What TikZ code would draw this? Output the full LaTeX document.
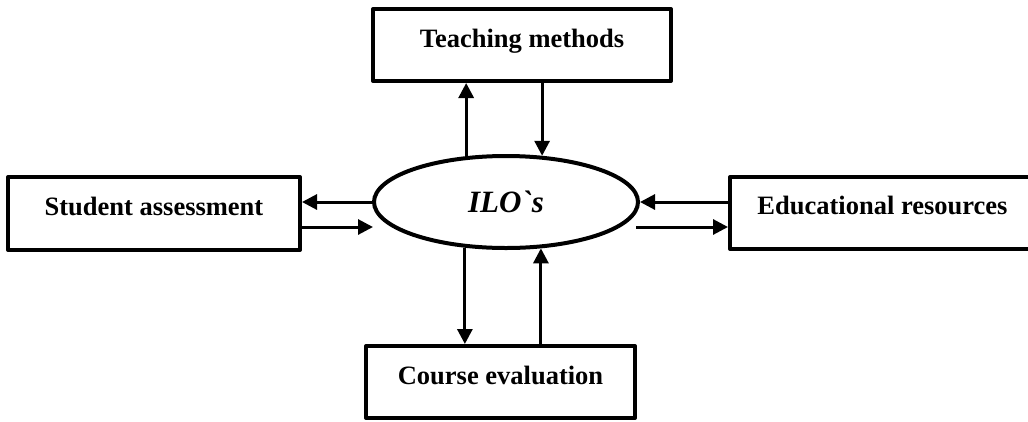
\documentclass[tikz,border=0pt]{standalone}
\usepackage{fontspec}
\newfontfamily\lserif{Liberation Serif}
\usetikzlibrary{shapes.geometric,arrows.meta}
\begin{document}
\begin{tikzpicture}[x=1pt,y=-1pt,
  box/.style={draw,line width=4pt,line join=round,inner sep=0pt,anchor=base,
    font=\lserif\bfseries\fontsize{26.5}{30}\selectfont},
  oval/.style={draw,ellipse,line width=4pt,inner sep=0pt,
    font=\lserif\bfseries\itshape\fontsize{31}{34}\selectfont},
  arr/.style={line width=3pt,-{Triangle[length=15pt,width=15pt]}}]
\useasboundingbox (0,0) rectangle (1028,421);
\clip (0,0) rectangle (1028,421);

\node[box,minimum width=298pt,text height=38pt,text depth=34pt] (tm) at (522,47) {Teaching methods};
\node[box,minimum width=292pt,text height=38pt,text depth=35pt] (sa) at (154,215) {Student assessment};
\node[box,minimum width=305pt,text height=37pt,text depth=35pt] (ea) at (882.5,214) {Educational resources};
\node[box,minimum width=269pt,text height=38pt,text depth=34pt] (ce) at (500.5,384) {Course evaluation};
\node[oval,minimum width=264pt,minimum height=92pt,text height=20pt,text depth=0pt] (ilo) at (506,202) {ILO\symbol{96}s};

\coordinate (l2) at (373,227);
\coordinate (r2) at (636,227);

\draw[arr] (ilo.131.6) -- (ilo.131.6 |- tm.south);
\draw[arr] (tm.south -| ilo.52.6) -- (ilo.52.6);
\draw[arr] (ilo.west) -- (ilo.west -| sa.east);
\draw[arr] (sa.east |- l2) -- (l2);
\draw[arr] (ea.west |- ilo.east) -- (ilo.east);
\draw[arr] (r2) -- (r2 -| ea.west);
\draw[arr] (ilo.228.4) -- (ilo.228.4 |- ce.north);
\draw[arr] (ce.north -| ilo.307.4) -- (ilo.307.4);
\end{tikzpicture}
\end{document}
